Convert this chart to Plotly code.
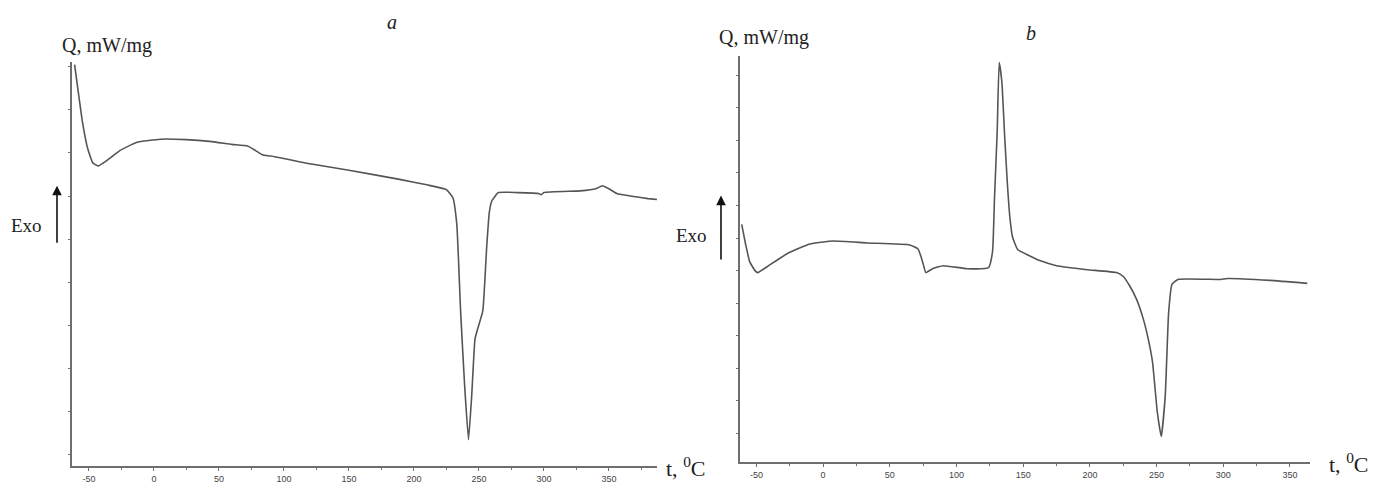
import plotly.graph_objects as go

PAGE_W, PAGE_H = 1376, 492
OFF = 8  # default body margin of the page
W, H = PAGE_W - 2 * OFF, PAGE_H - 2 * OFF

# ---- Panel a data (t in deg C, Q in arbitrary units of the unlabeled axis) ----
t_a = [-61, -58.5, -55, -51, -47, -43, -36, -26, -13, 5, 25, 43, 60, 72, 78, 84, 90,
       120, 150, 190, 210, 225, 230, 233, 236, 239, 242, 244.5, 247, 249, 253, 256,
       258, 260, 265, 280, 296, 298, 300, 328, 340, 345, 350, 356, 369, 380, 387]
q_a = [9.05, 8.49, 7.73, 7.11, 6.77, 6.70, 6.83, 7.06, 7.25, 7.32, 7.31, 7.27, 7.20,
       7.16, 7.06, 6.95, 6.93, 6.75, 6.60, 6.38, 6.26, 6.15, 5.96, 5.34, 3.28, 1.61,
       0.34, 1.38, 2.68, 2.91, 3.33, 4.82, 5.62, 5.89, 6.08, 6.08, 6.06, 6.03, 6.08,
       6.12, 6.17, 6.24, 6.17, 6.06, 5.99, 5.94, 5.92]

# ---- Panel b data ----
t_b = [-61, -58, -55, -51, -49, -42, -27, -10, 7.5, 33, 65, 71, 73, 75, 77, 82, 90,
       108, 124, 127, 128.5, 130.5, 132, 134, 136, 138, 140, 142, 146, 155, 163, 175,
       198, 220, 225, 230, 235, 240, 244, 247, 250.5, 253.5, 256.5, 259, 261.5, 266,
       298, 303, 335, 363]
q_b = [6.42, 5.79, 5.27, 5.00, 4.94, 5.12, 5.52, 5.82, 5.91, 5.85, 5.79, 5.67, 5.48,
       5.21, 4.94, 5.06, 5.15, 5.06, 5.09, 5.58, 7.24, 9.27, 11.39, 10.79, 9.21, 7.76,
       6.64, 6.03, 5.64, 5.45, 5.30, 5.15, 5.03, 4.94, 4.82, 4.52, 4.12, 3.52, 2.85,
       2.18, 0.67, -0.09, 1.18, 3.70, 4.58, 4.73, 4.73, 4.76, 4.70, 4.61]

x_ticks = [-50, 0, 50, 100, 150, 200, 250, 300, 350]
x_tick_labels = ["-50", "0", "50", "100", "150", "200", "250", "300", "350"]
y_ticks_a = list(range(0, 10))
y_ticks_b = list(range(0, 12))

panel_titles = ["a", "b"]
y_label = "Q, mW/mg"
x_label = "t, <sup>0</sup>C"
exo_label = "Exo"

LINE = "#555555"
AXIS = "#6e6e6e"
SERIF = "Liberation Serif, Times New Roman, serif"
TICKFONT = dict(family="Liberation Sans Narrow, Arial Narrow, Liberation Sans, sans-serif",
                size=9, color="#444")


def px(x):
    # page pixel x -> paper coordinate
    return (x - OFF) / W


def py(y):
    # page pixel y -> paper coordinate
    return (H - (y - OFF)) / H


fig = go.Figure()
fig.add_trace(go.Scatter(x=t_a, y=q_a, mode="lines",
                         line=dict(color=LINE, width=1.6, shape="spline", smoothing=0.4),
                         xaxis="x", yaxis="y", showlegend=False, hoverinfo="skip"))
fig.add_trace(go.Scatter(x=t_b, y=q_b, mode="lines",
                         line=dict(color=LINE, width=1.6, shape="spline", smoothing=0.4),
                         xaxis="x2", yaxis="y2", showlegend=False, hoverinfo="skip"))

xcommon = dict(showline=True, linecolor=AXIS, linewidth=1.6, showgrid=False, zeroline=False,
               ticks="outside", ticklen=3, tickcolor=AXIS, tickwidth=1,
               tickvals=x_ticks, ticktext=x_tick_labels, tickfont=TICKFONT,
               minor=dict(ticks="outside", ticklen=2, tickcolor=AXIS, dtick=25, tick0=0, showgrid=False))
ycommon = dict(showline=True, linecolor=AXIS, linewidth=1.6, showgrid=False, zeroline=False,
               ticks="outside", ticklen=2, tickcolor=AXIS, tickwidth=1, showticklabels=False)

fig.update_layout(
    width=W, height=H, margin=dict(l=0, r=0, t=0, b=0),
    paper_bgcolor="white", plot_bgcolor="white",
    xaxis=dict(domain=[px(72), px(657)], range=[-63, 387], anchor="y", **xcommon),
    yaxis=dict(domain=[py(472), py(63)], range=[-0.275, 9.106], anchor="x",
               tickvals=y_ticks_a, **ycommon),
    xaxis2=dict(domain=[px(740), px(1310)], range=[-62.3, 365], anchor="y2", **xcommon),
    yaxis2=dict(domain=[py(468), py(57)], range=[-0.879, 11.576], anchor="x2",
                tickvals=y_ticks_b, **ycommon),
)

ann = []
# Y labels
ann.append(dict(x=px(60), y=py(46), xref="paper", yref="paper", text=y_label, showarrow=False,
                xanchor="left", yanchor="middle", font=dict(family=SERIF, size=20, color="#222")))
ann.append(dict(x=px(717), y=py(38), xref="paper", yref="paper", text=y_label, showarrow=False,
                xanchor="left", yanchor="middle", font=dict(family=SERIF, size=20, color="#222")))
# Panel titles
ann.append(dict(x=px(392), y=py(22), xref="paper", yref="paper", text="<i>" + panel_titles[0] + "</i>",
                showarrow=False, xanchor="center", yanchor="middle",
                font=dict(family=SERIF, size=20, color="#222")))
ann.append(dict(x=px(1031), y=py(33), xref="paper", yref="paper", text="<i>" + panel_titles[1] + "</i>",
                showarrow=False, xanchor="center", yanchor="middle",
                font=dict(family=SERIF, size=20, color="#222")))
# X labels
ann.append(dict(x=px(664), y=py(473), xref="paper", yref="paper", text=x_label, showarrow=False,
                xanchor="left", yanchor="middle", font=dict(family=SERIF, size=22, color="#222")))
ann.append(dict(x=px(1327), y=py(469), xref="paper", yref="paper", text=x_label, showarrow=False,
                xanchor="left", yanchor="middle", font=dict(family=SERIF, size=22, color="#222")))
# Exo labels
ann.append(dict(x=px(9), y=py(228), xref="paper", yref="paper", text=exo_label, showarrow=False,
                xanchor="left", yanchor="middle", font=dict(family=SERIF, size=19, color="#222")))
ann.append(dict(x=px(674), y=py(238), xref="paper", yref="paper", text=exo_label, showarrow=False,
                xanchor="left", yanchor="middle", font=dict(family=SERIF, size=19, color="#222")))
# Exo arrows
ann.append(dict(x=px(57), y=py(188), xref="paper", yref="paper", ax=0, ay=67, text=" ",
                showarrow=True, arrowhead=2, arrowsize=1.2, arrowwidth=1.6, arrowcolor="#111"))
ann.append(dict(x=px(721), y=py(198), xref="paper", yref="paper", ax=0, ay=74, text=" ",
                showarrow=True, arrowhead=2, arrowsize=1.2, arrowwidth=1.6, arrowcolor="#111"))
fig.update_layout(annotations=ann)

fig.write_html("out.html")
